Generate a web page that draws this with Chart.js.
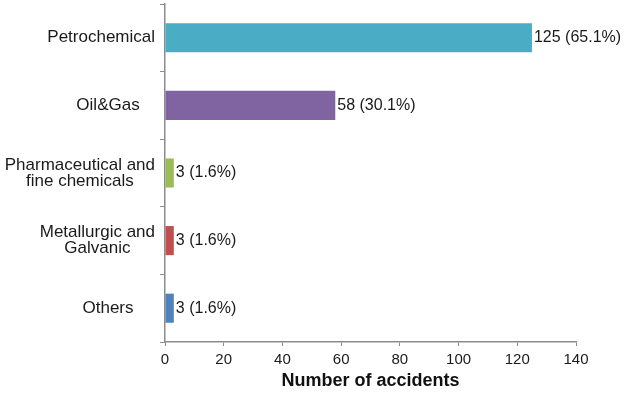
<!DOCTYPE html>
<html lang="en">
<head>
    <meta charset="UTF-8">
    <title>Number of accidents by sector</title>
    <style>
        body { margin: 0; background: #fff; }
        #wrap { width: 631px; height: 395px; position: relative; }
    </style>
</head>
<body>
    <div id="wrap"><canvas id="chart"></canvas></div>
    <script src="https://cdn.jsdelivr.net/npm/chart.js"></script>
    <script>
        // data
        const sectors = ['Petrochemical', 'Oil&Gas', ['Pharmaceutical and', 'fine chemicals'], ['Metallurgic and', 'Galvanic'], 'Others'];
        const accidents = [125, 58, 3, 3, 3];
        const shares = ['65.1%', '30.1%', '1.6%', '1.6%', '1.6%'];
        const barColors = ['#4BACC6', '#8064A2', '#9BBB59', '#C0504D', '#4F81BD'];
        const xTicks = [0, 20, 40, 60, 80, 100, 120, 140];

        const family = '"Liberation Sans", Arial, sans-serif';
        const textColor = '#1a1a1a';
        const axisGrey = '#8c8c8c';

        // category names on the left, centred like the original (but kept off the axis)
        const sectorLabels = {
            id: 'sectorLabels',
            afterDraw(chart) {
                const c = chart.ctx;
                const y = chart.scales.y;
                const lineH = 16;
                c.save();
                c.font = '17px ' + family;
                c.fillStyle = textColor;
                c.textAlign = 'center';
                c.textBaseline = 'middle';
                sectors.forEach((lab, i) => {
                    const lines = Array.isArray(lab) ? lab : [lab];
                    const w = Math.max(...lines.map(l => c.measureText(l).width));
                    const cx = Math.min(108, y.right - 10 - w / 2);
                    const cy = y.getPixelForTick(i);
                    lines.forEach((l, j) => {
                        c.fillText(l, cx, cy + (j - (lines.length - 1) / 2) * lineH);
                    });
                });
                c.restore();
            }
        };

        // value labels at the end of each bar
        const valueLabels = {
            id: 'valueLabels',
            afterDatasetsDraw(chart) {
                const c = chart.ctx;
                const meta = chart.getDatasetMeta(0);
                c.save();
                c.font = '16px ' + family;
                c.fillStyle = textColor;
                c.textBaseline = 'middle';
                c.textAlign = 'left';
                meta.data.forEach((bar, i) => {
                    c.fillText(accidents[i] + ' (' + shares[i] + ')', bar.x + 2, bar.y);
                });
                c.restore();
            }
        };

        new Chart(document.getElementById('chart'), {
            type: 'bar',
            data: {
                labels: sectors,
                datasets: [{
                    data: accidents,
                    backgroundColor: barColors,
                    borderWidth: 0,
                    barPercentage: 0.43,
                    categoryPercentage: 1
                }]
            },
            options: {
                indexAxis: 'y',
                responsive: true,
                maintainAspectRatio: false,
                animation: false,
                layout: { padding: { top: 4, right: 55, left: 0, bottom: 0 } },
                plugins: { legend: { display: false }, tooltip: { enabled: false } },
                scales: {
                    x: {
                        min: 0,
                        max: 140,
                        afterBuildTicks: s => { s.ticks = xTicks.map(v => ({ value: v })); },
                        afterFit: s => { s.height = 53; },
                        grid: { drawOnChartArea: false, drawTicks: true, tickLength: 4, color: axisGrey },
                        border: { color: axisGrey, width: 1.5 },
                        ticks: { color: textColor, padding: 5, maxRotation: 0, font: { family: family, size: 15 } },
                        title: {
                            display: true,
                            text: 'Number of accidents',
                            color: '#111',
                            padding: { top: 0, bottom: 3 },
                            font: { family: family, size: 18, weight: 'bold' }
                        }
                    },
                    y: {
                        afterFit: s => { s.width = 165; },
                        grid: { offset: true, drawOnChartArea: false, drawTicks: true, tickLength: 5, color: axisGrey },
                        border: { color: axisGrey, width: 1.5 },
                        ticks: { display: false }
                    }
                }
            },
            plugins: [valueLabels, sectorLabels]
        });
    </script>
</body>
</html>
